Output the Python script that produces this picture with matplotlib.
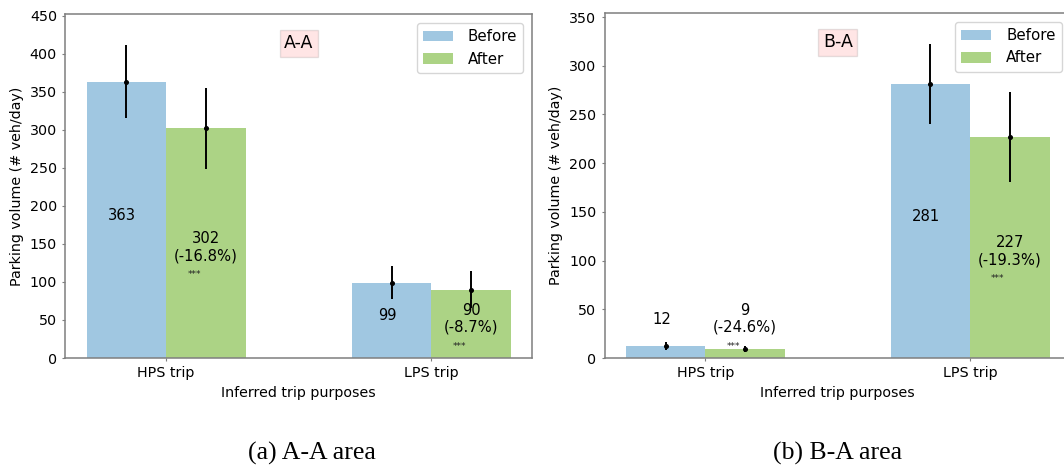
import matplotlib
matplotlib.use("Agg")
import matplotlib.pyplot as plt
from matplotlib.ticker import MultipleLocator
import numpy as np

# ---- data -------------------------------------------------------------
categories = ["HPS trip", "LPS trip"]
series_names = ["Before", "After"]

aa_before = [363, 99]
aa_before_err = [48, 22]
aa_after = [302, 90]
aa_after_err = [53, 24]
aa_change = ["-16.8%", "-8.7%"]

ba_before = [12, 281]
ba_before_err = [4, 41]
ba_after = [9, 227]
ba_after_err = [3, 46]
ba_change = ["-24.6%", "-19.3%"]

panel_tags = ["A-A", "B-A"]
captions = ["(a) A-A area", "(b) B-A area"]

# ---- style ------------------------------------------------------------
BLUE = "#a0c7e1"
GREEN = "#acd385"
SPINE = "#7f7f7f"
plt.rcParams["font.family"] = ["DejaVu Sans"]
plt.rcParams["font.size"] = 10.3

W, H = 1064, 466
fig = plt.figure(figsize=(W / 100, H / 100), dpi=100)


def px_axes(left, top, width, bottom):
    return fig.add_axes([left / W, 1 - bottom / H, width / W, (bottom - top) / H])


def draw_panel(ax, before, before_err, after, after_err, change, tag):
    x = np.arange(len(categories))
    w = 0.3
    ax.bar(x - w / 2, before, w, color=BLUE, label=series_names[0])
    ax.bar(x + w / 2, after, w, color=GREEN, label=series_names[1])
    for xs, vals, errs in ((x - w / 2, before, before_err), (x + w / 2, after, after_err)):
        ax.errorbar(xs, vals, yerr=errs, fmt="o", ms=2.6, color="black",
                    elinewidth=1.4, capsize=0, zorder=3)

    top = 1.1 * max(max(np.add(before, before_err)), max(np.add(after, after_err)))
    ax.set_ylim(0, top)
    ax.yaxis.set_major_locator(MultipleLocator(50))

    for i in range(len(categories)):
        yb = max(before[i] / 2, 0.10 * top)
        ax.text(x[i] - w / 2 - 0.015, yb, f"{before[i]}", ha="center",
                va="baseline", fontsize=10.6)
        # after value, relative change underneath, significance stars below
        ya = max(after[i] / 2, 0.125 * top)
        xa = x[i] + w / 2
        ax.text(xa, ya, f"{after[i]}", ha="center", va="baseline", fontsize=10.6)
        ax.annotate(f"({change[i]})", (xa, ya), xytext=(0, -12.2),
                    textcoords="offset points", ha="center", va="baseline",
                    fontsize=10.6)
        ax.annotate("***", (xa - 0.045, ya), xytext=(0, -24.5),
                    textcoords="offset points", ha="center", va="baseline",
                    fontsize=6.5, color="#222222")

    ax.text(0.5, 0.915, tag, transform=ax.get_xaxis_transform(), ha="center",
            va="center", fontsize=12.5,
            bbox=dict(facecolor="red", alpha=0.1, boxstyle="square,pad=0.25"))

    ax.set_xticks(x)
    ax.set_xticklabels(categories)
    ax.set_xlabel("Inferred trip purposes")
    ax.set_ylabel("Parking volume (# veh/day)")
    ax.legend(loc="upper right", fontsize=10.8, handletextpad=1.0,
              borderaxespad=0.6)
    for s in ax.spines.values():
        s.set_color(SPINE)
        s.set_linewidth(1.1)
    ax.tick_params(length=2.5, color=SPINE)


ax1 = px_axes(65.3, 14, 467, 358)
draw_panel(ax1, aa_before, aa_before_err, aa_after, aa_after_err, aa_change, panel_tags[0])

ax2 = px_axes(604.7, 13, 466, 358)
draw_panel(ax2, ba_before, ba_before_err, ba_after, ba_after_err, ba_change, panel_tags[1])

for cx, cap in zip((312, 838), captions):
    fig.text(cx / W, 1 - 453 / H, cap, ha="center", va="center",
             fontsize=18.5, family="Liberation Serif")

fig.savefig("out.png", dpi=100)
